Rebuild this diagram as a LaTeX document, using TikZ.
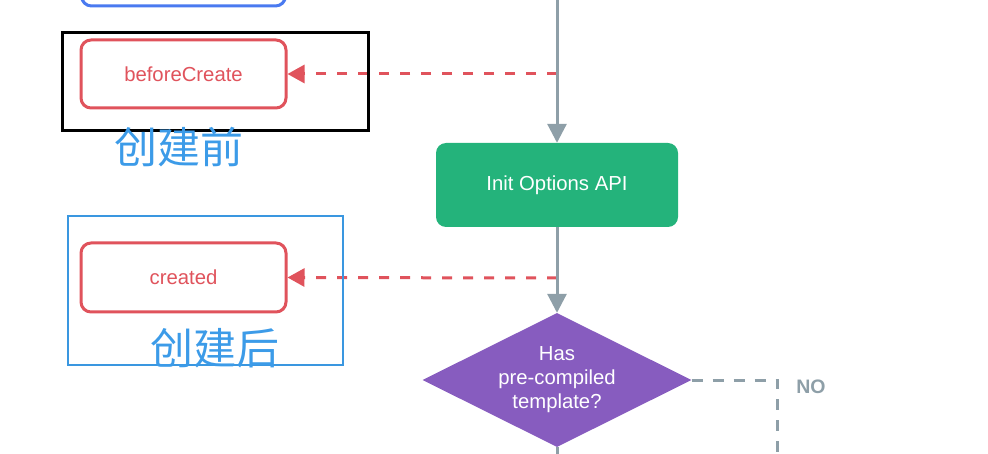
\documentclass[tikz,border=0pt]{standalone}
\usepackage{fontspec}
\setmainfont{Liberation Sans}
\newfontfamily\cjk{Noto Sans CJK SC}
\usetikzlibrary{arrows.meta,shapes.geometric}
\definecolor{hookred}{HTML}{E0535C}
\definecolor{flowgray}{HTML}{8E9FA8}
\definecolor{initgreen}{HTML}{24B37B}
\definecolor{diapurple}{HTML}{875CBF}
\definecolor{topblue}{HTML}{4A7AF0}
\definecolor{noteblue}{HTML}{3A97E0}
\definecolor{cjkblue}{HTML}{3C9BE8}
\tikzset{
  hookbox/.style={draw=hookred, line width=3pt, rounded corners=10pt, fill=white,
    minimum width=205pt, minimum height=68pt, inner sep=0pt, text=hookred,
    font=\fontsize{20.3}{23}\selectfont},
  flowline/.style={draw=flowgray, line width=3pt},
  flowarrow/.style={flowline, -{Triangle[length=19pt,width=19pt]}},
  hookarrow/.style={draw=hookred, line width=3pt, dash pattern=on 10pt off 11pt,
    -{Triangle[length=17pt,width=18pt]}},
  nodash/.style={draw=flowgray, line width=3pt, dash pattern=on 11pt off 10pt},
  cjklabel/.style={text=cjkblue, font=\cjk\fontsize{43}{48}\selectfont, inner sep=0pt},
}
\begin{document}
\begin{tikzpicture}[x=1pt,y=-1pt]
\useasboundingbox (0,0) rectangle (988,454);
\clip (0,0) rectangle (988,454);
% top (cut off) box
\node[draw=topblue, line width=3pt, rounded corners=10pt, minimum width=204pt, minimum height=70pt, inner sep=0pt] (prev) at (183.5,-29) {};
% hooks
\node[hookbox] (bc) at (183.5,74) {beforeCreate};
\node[hookbox, minimum height=69pt] (cr) at (183.5,277.5) {created};
% main flow
\node[fill=initgreen, rounded corners=10pt, minimum width=242pt, minimum height=84pt, inner sep=0pt, text=white, font=\fontsize{20.3}{23}\selectfont] (init) at (557,185) {Init Options API};
\node[shape=diamond, fill=diapurple, aspect=2, minimum width=269pt, minimum height=134pt, inner sep=0pt, text=white, align=center, font=\fontsize{20.3}{24}\selectfont] (tpl) at (557,380) {Has\\pre-compiled\\template?};
\coordinate (ftop) at (557,-5);
\coordinate (fbot) at (557,460);
\coordinate (h1) at (557,74);
\coordinate (h2) at (557,278);
\coordinate (nocorner) at (777.5,380);
\coordinate (noend) at (777.5,460);
% red dashed hook arrows
\draw[hookarrow] (h1) -- (bc.east);
\draw[hookarrow] (h2) -- (cr.east);
% gray flow
\draw[flowarrow] (ftop) -- (init.north);
\draw[flowarrow] (init.south) -- (tpl.north);
\draw[flowline] (tpl.south) -- (fbot);
\draw[nodash] (tpl.east) -- (nocorner) -- (noend);
\node[text=flowgray, font=\bfseries\fontsize{19.5}{20}\selectfont, inner sep=0pt] (no) at (811,387) {NO};
% annotations
\draw[black, line width=3pt] (62,33) rectangle (368,131);
\node[cjklabel] (l1) at (179,147) {创建前};
\draw[noteblue, line width=2.5pt] (68,216) rectangle (343,365);
\node[cjklabel] (l2) at (215,348) {创建后};
\end{tikzpicture}
\end{document}
